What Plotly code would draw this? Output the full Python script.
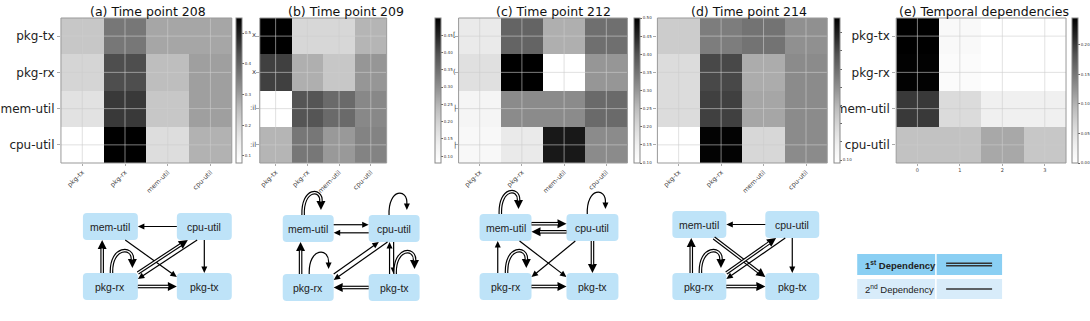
import plotly.graph_objects as go

W, H = 1090, 321

# ---- heatmap data (rows: pkg-tx, pkg-rx, mem-util, cpu-util) ----
metrics = ["pkg-tx", "pkg-rx", "mem-util", "cpu-util"]
lags = ["0", "1", "2", "3"]

tp208 = [[0.233, 0.365, 0.289, 0.289],
         [0.204, 0.436, 0.252, 0.299],
         [0.171, 0.464, 0.233, 0.299],
         [0.077, 0.549, 0.186, 0.271]]
tp209 = [[0.500, 0.189, 0.189, 0.248],
         [0.416, 0.256, 0.219, 0.290],
         [0.080, 0.391, 0.357, 0.311],
         [0.248, 0.336, 0.286, 0.319]]
tp212 = [[0.164, 0.372, 0.268, 0.356],
         [0.184, 0.500, 0.100, 0.300],
         [0.132, 0.316, 0.316, 0.364],
         [0.124, 0.164, 0.468, 0.316]]
tp214 = [[0.215, 0.327, 0.341, 0.299],
         [0.184, 0.402, 0.263, 0.307],
         [0.184, 0.410, 0.271, 0.307],
         [0.092, 0.486, 0.195, 0.307]]
temporal = [[0.245, 0.012, 0.000, 0.000],
            [0.243, 0.008, 0.000, 0.000],
            [0.201, 0.059, 0.031, 0.031],
            [0.086, 0.086, 0.108, 0.081]]

titles = ["(a) Time point 208", "(b) Time point 209", "(c) Time point 212",
          "(d) Time point 214", "(e) Temporal dependencies"]
cbar_ranges = [(0.077, 0.549), (0.08, 0.50), (0.10, 0.50), (0.092, 0.49), (0.0, 0.245)]
cbar_ticks = [[0.1, 0.2, 0.3, 0.4, 0.5],
              [0.10, 0.15, 0.20, 0.25, 0.30, 0.35, 0.40, 0.45],
              [0.10, 0.15, 0.20, 0.25, 0.30, 0.35, 0.40, 0.45, 0.50],
              [0.10, 0.15, 0.20, 0.25, 0.30, 0.35, 0.40, 0.45],
              [0.00, 0.05, 0.10, 0.15, 0.20]]

# ---- dependency graphs: (source, target, order) ----
edges_208 = [("cpu-util", "mem-util", 2), ("mem-util", "pkg-tx", 2), ("cpu-util", "pkg-rx", 2),
             ("pkg-rx", "cpu-util", 1), ("pkg-rx", "pkg-tx", 1), ("cpu-util", "pkg-tx", 2),
             ("pkg-rx", "mem-util", 1), ("pkg-rx", "pkg-rx", 1)]
edges_209 = [("mem-util", "cpu-util", 2), ("cpu-util", "mem-util", 2), ("pkg-rx", "mem-util", 1),
             ("pkg-rx", "pkg-rx", 2), ("mem-util", "mem-util", 1), ("cpu-util", "cpu-util", 2),
             ("pkg-rx", "cpu-util", 2), ("cpu-util", "pkg-rx", 2), ("pkg-tx", "cpu-util", 2),
             ("cpu-util", "pkg-tx", 2), ("pkg-tx", "pkg-tx", 1), ("pkg-tx", "pkg-rx", 1)]
edges_212 = [("mem-util", "cpu-util", 1), ("cpu-util", "mem-util", 1), ("mem-util", "mem-util", 1),
             ("cpu-util", "cpu-util", 2), ("pkg-rx", "mem-util", 2), ("pkg-rx", "pkg-rx", 1),
             ("mem-util", "pkg-tx", 2), ("cpu-util", "pkg-rx", 2), ("cpu-util", "pkg-tx", 1),
             ("pkg-rx", "pkg-tx", 1)]
edges_214 = [("cpu-util", "mem-util", 2), ("pkg-rx", "mem-util", 1), ("pkg-rx", "pkg-rx", 1),
             ("mem-util", "pkg-tx", 1), ("cpu-util", "pkg-rx", 2), ("pkg-rx", "cpu-util", 1),
             ("cpu-util", "pkg-tx", 2), ("pkg-rx", "pkg-tx", 1)]

legend_labels = ["1<sup>st</sup> Dependency", "2<sup>nd</sup> Dependency"]


def px(x):
    return x / W


def py(y):
    return 1 - y / H


greys = [[0, "#ffffff"], [0.125, "#f0f0f0"], [0.25, "#d9d9d9"], [0.375, "#bdbdbd"],
         [0.5, "#969696"], [0.625, "#737373"], [0.75, "#525252"], [0.875, "#252525"],
         [1, "#000000"]]

# pixel layout of the heatmap panels
hm_x = [(61, 232), (260, 387), (459, 628), (658, 828), (897, 1067)]
cb_x = [236, 435, 634, 834, 1072]
title_x = [148, 346, 554, 750, 985]
top, bottom = 18, 163

fig = go.Figure()
shapes = []
annotations = []

panels = [tp208, tp209, tp212, tp214, temporal]
for k, z in enumerate(panels):
    n = k + 1
    sfx = "" if n == 1 else str(n)
    zmin, zmax = cbar_ranges[k]
    ticks = cbar_ticks[k]
    fmt = "{:.1f}" if k == 0 else "{:.2f}"
    ticktext = [fmt.format(t) for t in ticks]
    if k == 3:
        ticktext = [t if i == 0 else " " for i, t in enumerate(ticktext)]
    fig.add_trace(go.Heatmap(
        z=z, x=list(range(len(z[0]))), y=list(range(len(z))),
        colorscale=greys, zmin=zmin, zmax=zmax,
        xaxis="x" + sfx, yaxis="y" + sfx,
        colorbar=dict(x=px(cb_x[k]), xanchor="left", xpad=0, ypad=0,
                      y=py(bottom), yanchor="bottom", len=(bottom - top) / H,
                      thickness=6, outlinewidth=1, outlinecolor="#888",
                      ticks="outside", ticklen=2, tickwidth=0.5, tickcolor="#666",
                      tickvals=ticks, ticktext=ticktext,
                      tickfont=dict(size=4, color="#333")),
    ))
    xcats = lags if k == 4 else metrics
    fig.layout["xaxis" + sfx] = dict(
        domain=[px(hm_x[k][0]), px(hm_x[k][1])], anchor="y" + sfx,
        range=[-0.5, 3.5], tickvals=list(range(4)), ticktext=xcats,
        tickangle=0 if k == 4 else -45, tickfont=dict(size=5 if k == 4 else 6.5, color="#444"),
        showgrid=False, zeroline=False, ticks="outside", ticklen=2, tickcolor="#aaa")
    fig.layout["yaxis" + sfx] = dict(
        domain=[py(bottom), py(top)], anchor="x" + sfx,
        range=[3.5, -0.5], tickvals=list(range(4)), ticktext=metrics,
        showticklabels=k in (0, 4), tickfont=dict(size=12, color="#222"),
        showgrid=False, zeroline=False, ticks="outside", ticklen=3, tickcolor="#aaa")
    # light grid through the cell centres
    for i in range(4):
        shapes.append(dict(type="line", xref="x" + sfx, yref="y" + sfx, x0=i, x1=i,
                           y0=-0.5, y1=3.5, line=dict(color="rgba(205,205,205,0.6)", width=1),
                           layer="above"))
        shapes.append(dict(type="line", xref="x" + sfx, yref="y" + sfx, y0=i, y1=i,
                           x0=-0.5, x1=3.5, line=dict(color="rgba(205,205,205,0.6)", width=1),
                           layer="above"))
    shapes.append(dict(type="rect", xref="paper", yref="paper",
                       x0=px(hm_x[k][0]), x1=px(hm_x[k][1]), y0=py(bottom), y1=py(top),
                       line=dict(color="#999", width=1), layer="above"))
    annotations.append(dict(x=px(title_x[k]), y=py(11), xref="paper", yref="paper",
                            text=titles[k], showarrow=False, xanchor="center", yanchor="middle",
                            font=dict(size=12.5, color="#111")))

# clipped y labels peeking out from behind neighbouring panels
row_y = [35, 72, 108, 145]
for frag_x, frags in [(258, ["x", "x", ":il", ":il"]), (458, ["[", "(", "|", "|"])]:
    for yy, t in zip(row_y, frags):
        annotations.append(dict(x=px(frag_x), y=py(yy), xref="paper", yref="paper", text=t,
                                showarrow=False, xanchor="right", yanchor="middle",
                                font=dict(size=7, color="#444")))

# ---- graph drawing ----
graph_geom = [dict(lx=83, rx=177, w=55, ty=213, by=273, h=27),
              dict(lx=283, rx=369, w=51, ty=215, by=274, h=27),
              dict(lx=480, rx=567, w=52, ty=214, by=273, h=27),
              dict(lx=673, rx=766, w=54, ty=211, by=273, h=27)]

ANCHORS = {
    ("cpu-util", "mem-util"): ((0, 0.5), (1, 0.5)),
    ("mem-util", "cpu-util"): ((1, 0.36), (0, 0.36)),
    ("pkg-rx", "pkg-tx"): ((1, 0.5), (0, 0.5)),
    ("pkg-tx", "pkg-rx"): ((0, 0.5), (1, 0.5)),
    ("pkg-rx", "mem-util"): ((0.35, 0), (0.35, 1)),
    ("cpu-util", "pkg-tx"): ((0.5, 1), (0.5, 0)),
    ("pkg-tx", "cpu-util"): ((0.41, 0), (0.41, 1)),
    ("mem-util", "pkg-tx"): ((0.77, 1), (0, 0.15)),
    ("cpu-util", "pkg-rx"): ((0.17, 1), (1, 0.15)),
    ("pkg-rx", "cpu-util"): ((1, 0.45), (0.5, 1)),
}
PAIRED = {
    ("cpu-util", "mem-util"): ((0, 0.66), (1, 0.66)),
    ("pkg-rx", "cpu-util"): ((1, 0.0), (0.2, 1)),
    ("cpu-util", "pkg-rx"): ((0.37, 1), (1, 0.22)),
    ("cpu-util", "pkg-tx"): ((0.49, 1), (0.49, 0)),
}


def node_box(g, name):
    x = g["lx"] if name in ("mem-util", "pkg-rx") else g["rx"]
    y = g["ty"] if name in ("mem-util", "cpu-util") else g["by"]
    return x, y, g["w"], g["h"]


def pt(x, y):
    return f"{px(x):.5f},{py(y):.5f}"


def seg(p, q, color, width):
    shapes.append(dict(type="line", xref="paper", yref="paper",
                       x0=px(p[0]), y0=py(p[1]), x1=px(q[0]), y1=py(q[1]),
                       line=dict(color=color, width=width), layer="above"))


def head(tip, u, order):
    L, hw = (9, 4.5) if order == 1 else (6.5, 3.0)
    bx, by = tip[0] - L * u[0], tip[1] - L * u[1]
    nx, ny = -u[1], u[0]
    pts = [tip, (bx + hw * nx, by + hw * ny), (bx - hw * nx, by - hw * ny)]
    path = "M " + " L ".join(pt(*p) for p in pts) + " Z"
    shapes.append(dict(type="path", xref="paper", yref="paper", path=path,
                       fillcolor="black", line=dict(width=0), layer="above"))
    return L


def stroke(p, q, order):
    if order == 1:
        seg(p, q, "black", 3.6)
        seg(p, q, "white", 1.3)
    else:
        seg(p, q, "black", 1.2)


def rrect(x, y, w, h, r, color):
    path = (f"M {pt(x + r, y)} L {pt(x + w - r, y)} Q {pt(x + w, y)} {pt(x + w, y + r)} "
            f"L {pt(x + w, y + h - r)} Q {pt(x + w, y + h)} {pt(x + w - r, y + h)} "
            f"L {pt(x + r, y + h)} Q {pt(x, y + h)} {pt(x, y + h - r)} "
            f"L {pt(x, y + r)} Q {pt(x, y)} {pt(x + r, y)} Z")
    shapes.append(dict(type="path", xref="paper", yref="paper", path=path,
                       fillcolor=color, line=dict(width=0), layer="above"))


for g, edges in zip(graph_geom, [edges_208, edges_209, edges_212, edges_214]):
    for name in ["mem-util", "cpu-util", "pkg-rx", "pkg-tx"]:
        x, y, w, h = node_box(g, name)
        rrect(x, y, w, h, 4, "#BEE3F8")
        annotations.append(dict(x=px(x + w / 2), y=py(y + h / 2), xref="paper", yref="paper",
                                text=name, showarrow=False, xanchor="center", yanchor="middle",
                                font=dict(family="Liberation Sans", size=10.5, color="#222")))
    pairs = {(s, t) for s, t, _ in edges}
    for s, t, order in edges:
        if s == t:
            x, y, w, h = node_box(g, s)
            fs, fe = (0.4, 0.75) if s in ("mem-util", "cpu-util") else (0.52, 0.9)
            p0 = (x + fs * w, y)
            tip = (x + fe * w, y - 5)
            L = head(tip, (0, 1), order)
            base = (tip[0], tip[1] - L + 0.5)
            c = y - 27
            path = f"M {pt(*p0)} C {pt(p0[0] - 1, c)} {pt(base[0] + 1, c)} {pt(*base)}"
            if order == 1:
                shapes.append(dict(type="path", xref="paper", yref="paper", path=path,
                                   line=dict(color="black", width=3.6), layer="above"))
                shapes.append(dict(type="path", xref="paper", yref="paper", path=path,
                                   line=dict(color="white", width=1.3), layer="above"))
            else:
                shapes.append(dict(type="path", xref="paper", yref="paper", path=path,
                                   line=dict(color="black", width=1.2), layer="above"))
            continue
        an = PAIRED[(s, t)] if (t, s) in pairs and (s, t) in PAIRED else ANCHORS[(s, t)]
        (fsx, fsy), (ftx, fty) = an
        sx, sy, sw, sh = node_box(g, s)
        tx, ty, tw, th = node_box(g, t)
        p = (sx + fsx * sw, sy + fsy * sh)
        q = (tx + ftx * tw, ty + fty * th)
        dx, dy = q[0] - p[0], q[1] - p[1]
        d = (dx * dx + dy * dy) ** 0.5
        u = (dx / d, dy / d)
        L = head(q, u, order)
        stroke(p, (q[0] - (L - 0.5) * u[0], q[1] - (L - 0.5) * u[1]), order)

# ---- legend table ----
rows = [(254, 275, "#8ACFF3", True, 1), (279, 299, "#D8ECFA", False, 2)]
for (y0, y1, col, bold, order), label in zip(rows, legend_labels):
    shapes.append(dict(type="rect", xref="paper", yref="paper", x0=px(858), x1=px(936),
                       y0=py(y1), y1=py(y0), fillcolor=col, line=dict(width=0), layer="above"))
    shapes.append(dict(type="rect", xref="paper", yref="paper", x0=px(937.5), x1=px(1003),
                       y0=py(y1), y1=py(y0), fillcolor=col, line=dict(width=0), layer="above"))
    annotations.append(dict(x=px(864), y=py((y0 + y1) / 2), xref="paper", yref="paper",
                            text=f"<b>{label}</b>" if bold else label, showarrow=False,
                            xanchor="left", yanchor="middle",
                            font=dict(family="Liberation Sans", size=9.5, color="#222")))
    ym = (y0 + y1) / 2
    if order == 1:
        seg((947, ym), (993, ym), "#333", 4)
        seg((947, ym), (993, ym), col, 1.2)
    else:
        seg((947, ym), (993, ym), "#333", 1.5)

fig.update_layout(
    width=W, height=H, margin=dict(l=0, r=0, t=0, b=0),
    paper_bgcolor="white", plot_bgcolor="white", showlegend=False,
    font=dict(family="DejaVu Sans"),
    shapes=shapes, annotations=annotations,
)

# drop the browser's default 8px body margin so the figure fills the window
fig.write_html("out.html", config={"displayModeBar": False},
               post_script="document.body.style.margin='0';document.body.style.overflow='hidden';")
